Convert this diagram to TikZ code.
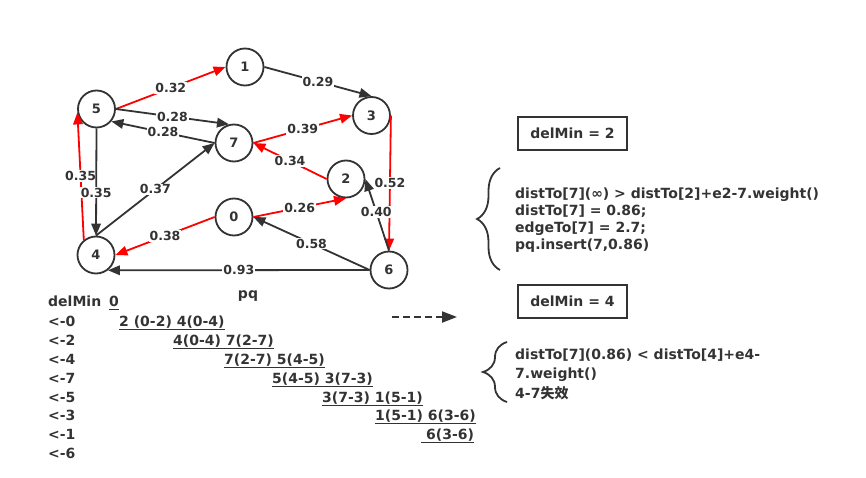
\documentclass[tikz,border=0pt]{standalone}
\usepackage{fontspec}
\setmainfont{DejaVu Sans}
\newfontfamily\cjkfont{Noto Sans CJK SC}
\usetikzlibrary{arrows.meta,decorations.pathreplacing}
\definecolor{inkgray}{HTML}{333333}
\definecolor{pathred}{HTML}{FF0000}
\newcommand{\qline}[1]{\setbox0=\hbox{#1}\rlap{\rule[-3.5pt]{\wd0}{1.4pt}}\box0}
\tikzset{
	vertex/.style={circle, draw=inkgray, line width=1.8pt, minimum size=37pt, inner sep=0pt, text=inkgray, font=\fontsize{13}{13}\selectfont\bfseries},
	wedge/.style={line width=1.8pt, draw=inkgray, -{Triangle[length=12pt,width=9.5pt]}},
	spt/.style={wedge, draw=pathred},
	wlabel/.style={fill=white, inner sep=1pt, text=inkgray, font=\fontsize{12.5}{12.5}\selectfont\bfseries},
	txt/.style={anchor=mid west, inner sep=0pt, text=inkgray, font=\fontsize{14}{14}\selectfont\bfseries},
	stepbox/.style={draw=inkgray, line width=1.8pt, minimum width=109pt, minimum height=33pt, inner sep=0pt, text=inkgray, font=\fontsize{14}{14}\selectfont\bfseries},
	curly/.style={draw=inkgray, line width=1.8pt, decorate, decoration={brace, amplitude=#1}},
}

\begin{document}
\begin{tikzpicture}[x=1pt,y=-1pt]
			%%%%% START %%%%%
			
			\fill[white] (0,0) rectangle (866,478);
			\useasboundingbox (0,0) rectangle (866,478);
			
			% vertices
			\node[vertex] (v1) at (245,67) {1};
			\node[vertex] (v5) at (96.5,109) {5};
			\node[vertex] (v3) at (371.5,115.5) {3};
			\node[vertex] (v7) at (234,143) {7};
			\node[vertex] (v2) at (346,179) {2};
			\node[vertex] (v0) at (234,217) {0};
			\node[vertex] (v4) at (96,255) {4};
			\node[vertex] (v6) at (389,270) {6};
			
			% edges
			\draw[spt] (v5.east) -- node[wlabel] {0.32} (v1.west);
			\draw[wedge] (v1.east) -- node[wlabel] {0.29} (v3.north);
			\draw[wedge] (v5.east) -- node[wlabel] {0.28} (v7.105);
			\draw[wedge] (v7.west) -- node[wlabel] {0.28} (v5.-40);
			\draw[spt] (v7.east) -- node[wlabel] {0.39} (v3.west);
			\draw[spt] (v2.west) -- node[wlabel] {0.34} (v7.east);
			\draw[spt] (v3.east) -- node[wlabel] {0.52} (v6.north);
			\draw[wedge] (v6.north) -- node[wlabel, pos=0.54] {0.40} (v2.east);
			\draw[spt] (v0.east) -- node[wlabel] {0.26} (v2.south);
			\draw[spt] (v0.west) -- node[wlabel] {0.38} (v4.east);
			\draw[wedge] (v6.west) -- node[wlabel] {0.58} (v0.east);
			\draw[wedge] (v6.west) -- node[wlabel] {0.93} (v4.-52);
			\draw[spt] (v4.129) -- node[wlabel] {0.35} (v5.190);
			\draw[wedge] (v5.south) -- node[wlabel, pos=0.6] {0.35} (v4.north);
			\draw[wedge] (v4.north) -- node[wlabel] {0.37} (v7.west);
			
			% priority queue
			\node[txt, anchor=center] (pq) at (248,296) {pq};
			\node[txt] (dm) at (48,304) {delMin};
			\node[txt] (r0) at (48,324) {<-0};
			\node[txt] (r2) at (48,343) {<-2};
			\node[txt] (r4) at (48,362) {<-4};
			\node[txt] (r7) at (48,381) {<-7};
			\node[txt] (r5) at (48,400) {<-5};
			\node[txt] (r3) at (48,418) {<-3};
			\node[txt] (r1) at (48,437) {<-1};
			\node[txt] (r6) at (48,456) {<-6};
			
			\node[txt] (q0) at (109,304) {\qline{0}};
			\node[txt] (q1) at (119,324) {\qline{2 (0-2) 4(0-4)}};
			\node[txt] (q2) at (173,343) {\qline{4(0-4) 7(2-7)}};
			\node[txt] (q3) at (224,362) {\qline{7(2-7) 5(4-5)}};
			\node[txt] (q4) at (272,381) {\qline{5(4-5) 3(7-3)}};
			\node[txt] (q5) at (322,400) {\qline{3(7-3) 1(5-1)}};
			\node[txt] (q6) at (375,418) {\qline{1(5-1) 6(3-6)}};
			\node[txt] (q7) at (421,437) {\qline{\hspace{5pt}6(3-6)}};
			
			\coordinate (dashA) at (392,317);
			\coordinate (dashB) at (457,317);
			\draw[line width=2pt, inkgray, dash pattern=on 7pt off 4pt, -{Triangle[length=15pt,width=11pt]}] (dashA) -- (dashB);
			
			% relaxation steps
			\node[stepbox] (del2) at (572.5,133.5) {delMin = 2};
			\draw[curly=23pt] (500,270) -- (500,168);
			\node[txt, anchor=north west, align=left, font=\fontsize{14}{17}\selectfont\bfseries] (relax2) at (515,188)
				{distTo[7](∞) > distTo[2]+e2-7.weight()\\distTo[7] = 0.86;\\edgeTo[7] = 2.7;\\pq.insert(7,0.86)};
			
			\node[stepbox] (del4) at (572.5,301.5) {delMin = 4};
			\draw[curly=24pt] (507,402) -- (507,342);
			\node[txt, anchor=north west, align=left, font=\fontsize{14}{19.5}\selectfont\bfseries] (relax4) at (515,348.5)
				{distTo[7](0.86) < distTo[4]+e4-\\7.weight()\\4-7{\cjkfont 失效}};
			
			%%%%% END %%%%%
\end{tikzpicture}
\end{document}
